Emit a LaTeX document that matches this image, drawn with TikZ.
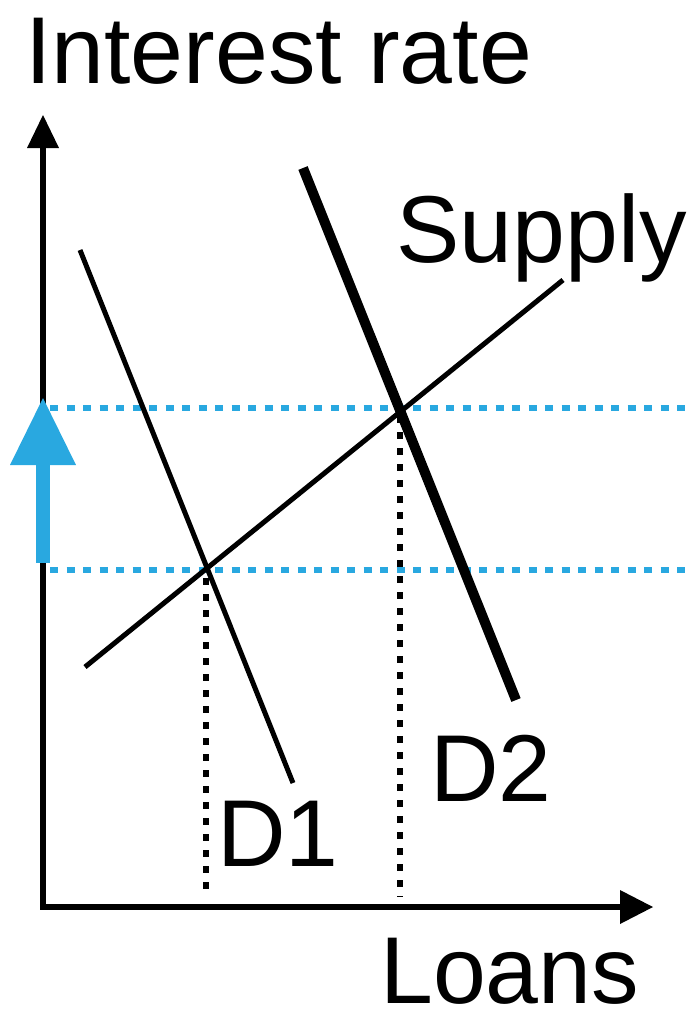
\documentclass[tikz,border=0pt]{standalone}
\usepackage{fontspec}
\setmainfont{Liberation Sans}
\definecolor{rateblue}{RGB}{41,168,224}
\begin{document}
\begin{tikzpicture}[x=1pt,y=-1pt,
  axisline/.style={line width=6pt},
  curve/.style={line width=5pt},
  thickcurve/.style={line width=10pt},
  bluedot/.style={rateblue,line width=6pt,dash pattern=on 8pt off 8.5pt},
  blackdot/.style={black,line width=6pt,dash pattern=on 6.5pt off 9.5pt},
  lbl/.style={inner sep=0pt,anchor=base west,font=\fontsize{95}{95}\selectfont}]
\useasboundingbox (0,0) rectangle (690,1015);
% coordinates
\coordinate (O) at (43,907);
\coordinate (Ytop) at (43,148);
\coordinate (Xend) at (621,907);
\coordinate (D1a) at (80,250);
\coordinate (D1b) at (293,783);
\coordinate (D2a) at (303,168);
\coordinate (D2b) at (516,700);
\coordinate (Sa) at (85,667);
\coordinate (Sb) at (563,280);
\coordinate (H1) at (50,570);
\coordinate (H1e) at (690,570);
\coordinate (H2) at (50,408);
\coordinate (H2e) at (690,408);
\coordinate (V1) at (206,578);
\coordinate (V1b) at (206,897);
\coordinate (V2) at (400,416);
\coordinate (V2b) at (400,897);
% dotted guides
\draw[bluedot] (H2) -- (H2e);
\draw[bluedot] (H1) -- (H1e);
\draw[blackdot] (V1) -- (V1b);
\draw[blackdot] (V2) -- (V2b);
% axes
\draw[axisline] ([yshift=3pt]O) -- (Ytop);
\draw[axisline] ([xshift=-3pt]O) -- (Xend);
\fill (27,148) -- (43,115) -- (59,148) -- cycle;
\fill (620,890) -- (653,907) -- (620,924) -- cycle;
% curves
\draw[curve] (D1a) -- (D1b);
\draw[thickcurve] (D2a) -- (D2b);
\draw[curve] (Sa) -- (Sb);
% blue arrow
\fill[rateblue] (36,563) rectangle (50,464);
\fill[rateblue] (10,465) -- (43,398) -- (76,465) -- cycle;
% labels
\node[lbl] (title) at (25,83) {Interest rate};
\node[lbl] (supply) at (396,262) {Supply};
\node[lbl] (d1) at (217,866) {D1};
\node[lbl] (d2) at (430,801) {D2};
\node[lbl,text depth=0pt] (loans) at (380,1003) {Loans};
\end{tikzpicture}
\end{document}
